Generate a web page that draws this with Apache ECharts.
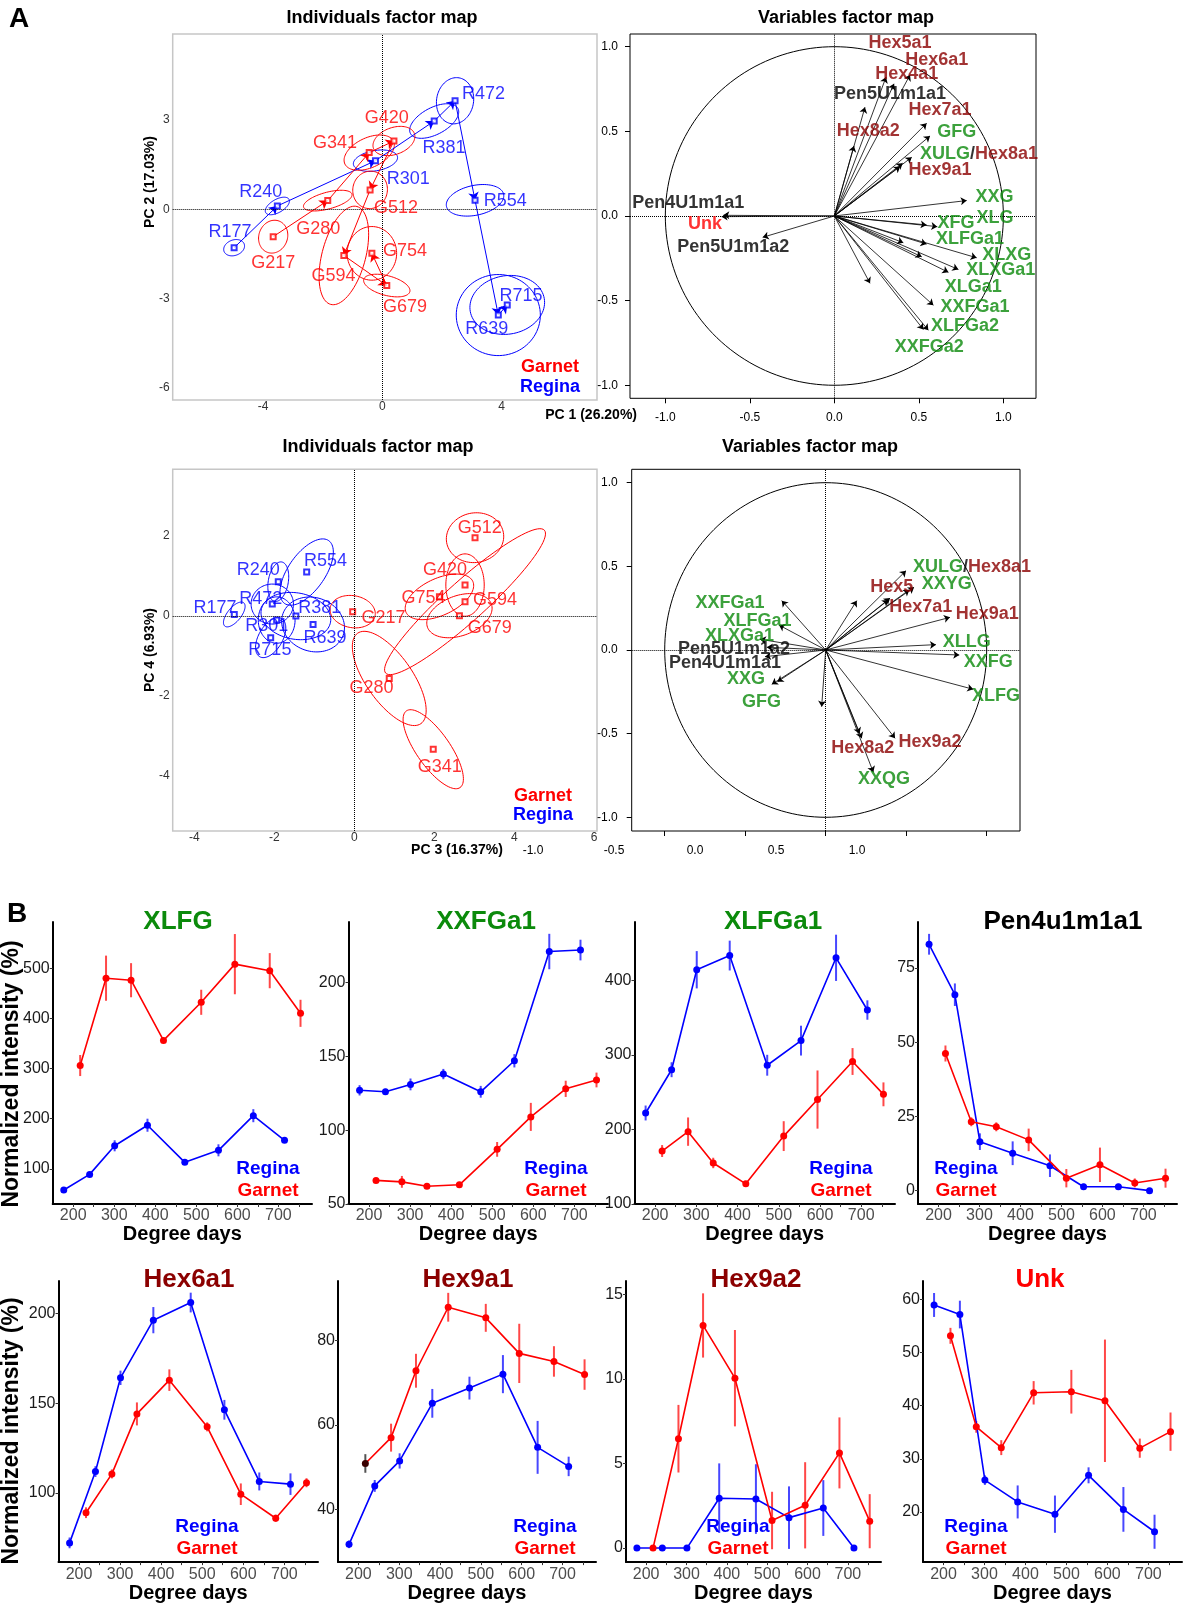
<!DOCTYPE html>
<html><head><meta charset="utf-8">
<script src="https://cdn.jsdelivr.net/npm/echarts@6.0.0/dist/echarts.min.js"></script>
<style>html,body{margin:0;padding:0;background:#fff;}#chart{width:1187px;height:1604px;}</style>
</head><body><div id="chart"></div>
<script>
// ================= DATA =================
const reginaNames = ['R177','R240','R301','R381','R472','R554','R639','R715'];
const garnetNames = ['G217','G280','G341','G420','G512','G594','G679','G754'];
const reginaDays = [177,240,301,381,472,554,639,715];
const garnetDays = [217,280,341,420,512,594,679,754];

// PCA individuals, PC1 / PC2
const reginaPC1 = [-4.97,-3.52,-0.23,1.74,2.44,3.11,3.89,4.19];
const reginaPC2 = [-1.29,0.11,1.63,2.96,3.64,0.30,-3.55,-3.21];
const garnetPC1 = [-3.66,-1.83,-0.44,0.39,-0.41,-1.29,0.15,-0.35];
const garnetPC2 = [-0.92,0.29,1.90,2.29,0.65,-1.55,-2.56,-1.48];
// confidence ellipses PC1/PC2: [semi-axis a, semi-axis b, angle deg]
const reginaEll12 = [[0.36,0.26,20],[0.45,0.22,30],[0.75,0.34,10],[0.9,0.45,28],[0.78,0.62,80],[0.98,0.5,12],[1.41,1.36,0],[1.26,0.98,10]];
const garnetEll12 = [[0.56,0.48,70],[0.84,0.28,15],[0.9,0.5,25],[0.73,0.45,20],[0.63,0.58,80],[1.7,0.73,75],[0.8,0.33,-15],[0.9,0.83,90]];

// PCA individuals, PC3 / PC4
const reginaPC3 = [-3.0,-1.9,-1.94,-1.46,-2.05,-1.19,-1.03,-2.09];
const reginaPC4 = [0.04,0.86,-0.1,0.0,0.30,1.1,-0.21,-0.54];
const garnetPC3 = [-0.04,0.875,1.975,2.77,3.02,2.77,2.63,2.13];
const garnetPC4 = [0.11,-1.56,-3.33,0.775,1.96,0.36,0.01,0.48];
const reginaEll34 = [[0.375,0.17,51],[0.5,0.25,80],[0.58,0.46,90],[0.88,0.58,-10],[0.53,0.5,0],[0.96,0.46,55],[0.8,0.67,-20],[0.55,0.3,60]];
const garnetEll34 = [[0.57,0.4,-10],[1.38,0.58,-55],[1.17,0.42,-55],[0.78,0.48,90],[0.72,0.62,10],[2.67,0.5,42],[0.85,0.5,20],[0.92,0.46,25]];

// PCA variables (correlations), PC1 / PC2
const var12Names = ['Hex5a1','Hex6a1','Hex4a1','Pen5U1m1a1','Hex7a1','Hex8a2','GFG','XULG/Hex8a1','Hex9a1','','XXG','XFG','XLG','XLFGa1','','XLXG','XLXGa1','XLGa1','','XXFGa1','XLFGa2','XXFGa2','','Pen4U1m1a1','Unk','Pen5U1m1a2'];
const var12X = [0.306,0.448,0.353,0.181,0.546,0.116,0.566,0.458,0.404,0.389,0.783,0.609,0.546,0.546,0.408,0.842,0.734,0.675,0.517,0.586,0.556,0.527,0.211,-0.657,-0.667,-0.424];
const var12Y = [0.821,0.834,0.781,0.643,0.548,0.414,0.473,0.347,0.312,0.292,0.091,-0.063,-0.053,-0.166,-0.158,-0.247,-0.316,-0.333,-0.241,-0.527,-0.675,-0.671,-0.398,0.004,-0.004,-0.126];

// PCA variables, PC3 / PC4
const var34Names = ['XULG/Hex8a1','XXYG','Hex5','Hex7a1','','','Hex9a1','XLLG','XXFG','XLFG','Hex9a2','Hex8a2','','XXQG','','XXFGa1','XLFGa1','XLXGa1','Pen5U1m1a2','Pen4U1m1a1','XXG','GFG'];
const var34X = [0.499,0.549,0.40,0.389,0.52,0.193,0.772,0.685,0.830,0.917,0.431,0.224,0.21,0.296,-0.025,-0.273,-0.29,-0.408,-0.366,-0.377,-0.335,-0.30];
const var34Y = [0.474,0.375,0.31,0.299,0.36,0.295,0.195,0.032,-0.030,-0.235,-0.528,-0.528,-0.5,-0.731,-0.339,0.295,0.149,0.064,0.016,-0.04,-0.205,-0.19];

// Panel B: normalized intensity (%), mean and error
const xlfgRegina = [58,89,146,187,113,137,206,157];
const xlfgReginaErr = [3,4,11,13,4,12,13,4];
const xlfgGarnet = [306,480,476,356,432,508,495,410];
const xlfgGarnetErr = [21,45,34,3,25,60,35,27];

const xxfga1Regina = [127,126,131,138,126,147,221,222];
const xxfga1ReginaErr = [3.5,2,4,3.5,4,4.5,12,7];
const xxfga1Garnet = [66,65,62,63,87,109,128,134];
const xxfga1GarnetErr = [1.5,4,1.5,1.5,5,9.5,5.5,5];

const xlfga1Regina = [222,280,414,433,286,319,430,360];
const xlfga1ReginaErr = [10,10,25,20,14,20,31,13];
const xlfga1Garnet = [171,197,155,127,191,240,291,247];
const xlfga1GarnetErr = [8,19,7,3,20,39,18,16];

const pen4Regina = [83,66,16.5,12.6,8.4,1.3,1.3,0];
const pen4ReginaErr = [3.5,3.8,2.8,4,3.8,1,1,0.5];
const pen4Garnet = [46.2,23.2,21.5,17.1,4.2,8.7,2.6,4.2];
const pen4GarnetErr = [2.7,1.5,1.5,3.8,3.1,5.8,1.5,3.2];

const hex6a1Regina = [72.2,111.9,164.1,196.2,206,146.3,106.4,104.9];
const hex6a1ReginaErr = [3,3,4,7.3,5.5,5.5,5,6];
const hex6a1Garnet = [89,110.6,144,162.8,136.8,99.3,85.9,105.7];
const hex6a1GarnetErr = [3,2.5,6.4,6,2.5,6,2,2.5];

const hex9a1Regina = [31.8,45.6,51.5,65.1,68.7,72,54.7,50.2];
const hex9a1ReginaErr = [0.9,1.4,1.8,3.4,2.7,4.5,6.25,2.3];
const hex9a1Garnet = [50.9,57,72.8,87.8,85.3,76.9,75,71.9];
const hex9a1GarnetErr = [2.2,3.3,4,3.4,3.3,7,3.6,3.6];

const hex9a2Regina = [0,0,0,2.95,2.9,1.8,2.37,0];
const hex9a2ReginaErr = [0,0,0,2.06,2.06,1.85,1.65,0];
const hex9a2Garnet = [0,6.47,13.17,10.05,1.63,2.53,5.63,1.59];
const hex9a2GarnetErr = [0,2,1.9,2.85,1.7,2.55,2.1,1.6];

const unkRegina = [58.9,57.1,26.0,21.9,19.6,26.9,20.5,16.3];
const unkReginaErr = [2.25,2.6,0.9,3.1,3.5,1.5,4.2,3.2];
const unkGarnet = [53.1,36.0,32.1,42.4,42.6,40.9,32,35.1];
const unkGarnetErr = [1.5,1.1,1.4,2.2,4.1,11.5,1.8,3.6];

// axis tick values
const pcTicksX12 = [-4,0,4];
const pcTicksY12 = [-6,-3,0,3];
const pcTicksX34 = [-4,-2,0,2,4,6];
const pcTicksY34 = [-4,-2,0,2];
const corTicks = [-1,-0.5,0,0.5,1];
const dayTicks = [200,250,300,350,400,450,500,550,600,650,700,750];
const dayLabels = [200,300,400,500,600,700];

// ================= LAYOUT (positions / styles) =================
const FONT = '"Liberation Sans", Arial, Helvetica, sans-serif';
const GREEN = '#0b8a0b', DRED = '#8b0000', RED = '#ff0000', BLUE = '#0000ff';

const ind12LabelAt = {
  R177:[-5.11,-0.78], R240:[-4.08,0.59], R301:[0.87,1.01], R381:[2.07,2.05], R472:[3.39,3.87], R554:[4.12,0.29], R639:[3.50,-4.03], R715:[4.65,-2.91],
  G217:[-3.66,-1.81], G280:[-2.15,-0.66], G341:[-1.59,2.21], G420:[0.15,3.05], G512:[0.46,0.03], G594:[-1.64,-2.23], G679:[0.76,-3.29], G754:[0.76,-1.39]
};
const ind34LabelAt = {
  R177:[-3.48,0.19], R240:[-2.4,1.15], R301:[-2.19,-0.24], R381:[-0.86,0.19], R472:[-2.34,0.42], R554:[-0.72,1.38], R639:[-0.73,-0.54], R715:[-2.11,-0.85],
  G217:[0.73,-0.06], G280:[0.43,-1.81], G341:[2.14,-3.78], G420:[2.27,1.15], G512:[3.14,2.21], G594:[3.52,0.4], G679:[3.39,-0.29], G754:[1.73,0.44]
};
const var12LabelAt = {
  'Hex5a1':[0.389,1.022],'Hex6a1':[0.606,0.923],'Hex4a1':[0.428,0.840],'Pen5U1m1a1':[0.329,0.722],'Hex7a1':[0.625,0.627],
  'Hex8a2':[0.201,0.499],'GFG':[0.724,0.495],'XULG/Hex8a1':[0.856,0.367],'Hex9a1':[0.625,0.272],'XXG':[0.947,0.114],
  'XFG':[0.72,-0.039],'XLG':[0.951,-0.01],'XLFGa1':[0.803,-0.136],'XLXG':[1.02,-0.231],'XLXGa1':[0.985,-0.32],
  'XLGa1':[0.822,-0.418],'XXFGa1':[0.832,-0.54],'XLFGa2':[0.773,-0.651],'XXFGa2':[0.562,-0.777],
  'Pen4U1m1a1':[-0.864,0.075],'Unk':[-0.765,-0.047],'Pen5U1m1a2':[-0.598,-0.185]
};
const var34LabelAt = {
  'XXFGa1':[-0.594,0.279],'XLFGa1':[-0.424,0.173],'XLXGa1':[-0.536,0.086],'Pen5U1m1a2':[-0.569,0.006],'Pen4U1m1a1':[-0.625,-0.08],
  'XXG':[-0.495,-0.175],'GFG':[-0.398,-0.309],'Hex5':[0.41,0.375],'XULG/Hex8a1':[0.909,0.498],'XXYG':[0.752,0.394],
  'Hex7a1':[0.59,0.259],'Hex9a1':[1.004,0.215],'XLLG':[0.876,0.05],'XXFG':[1.01,-0.07],'XLFG':[1.058,-0.275],
  'Hex9a2':[0.648,-0.548],'Hex8a2':[0.23,-0.588],'XXQG':[0.362,-0.771]
};

const panelsB = [
  {title:'XLFG', color:GREEN, r:xlfgRegina, re:xlfgReginaErr, g:xlfgGarnet, ge:xlfgGarnetErr, yMin:30, yMax:592, yTicks:[100,200,300,400,500]},
  {title:'XXFGa1', color:GREEN, r:xxfga1Regina, re:xxfga1ReginaErr, g:xxfga1Garnet, ge:xxfga1GarnetErr, yMin:50, yMax:241, yTicks:[50,100,150,200]},
  {title:'XLFGa1', color:GREEN, r:xlfga1Regina, re:xlfga1ReginaErr, g:xlfga1Garnet, ge:xlfga1GarnetErr, yMin:100, yMax:478, yTicks:[100,200,300,400]},
  {title:'Pen4u1m1a1', color:'#000', r:pen4Regina, re:pen4ReginaErr, g:pen4Garnet, ge:pen4GarnetErr, yMin:-4.5, yMax:90.5, yTicks:[0,25,50,75]},
  {title:'Hex6a1', color:DRED, r:hex6a1Regina, re:hex6a1ReginaErr, g:hex6a1Garnet, ge:hex6a1GarnetErr, yMin:61.5, yMax:218, yTicks:[100,150,200]},
  {title:'Hex9a1', color:DRED, r:hex9a1Regina, re:hex9a1ReginaErr, g:hex9a1Garnet, ge:hex9a1GarnetErr, yMin:27.6, yMax:94, yTicks:[40,60,80], darkFirstGarnet:true},
  {title:'Hex9a2', color:DRED, r:hex9a2Regina, re:hex9a2ReginaErr, g:hex9a2Garnet, ge:hex9a2GarnetErr, yMin:-0.83, yMax:15.8, yTicks:[0,5,10,15]},
  {title:'Unk', color:RED, r:unkRegina, re:unkReginaErr, g:unkGarnet, ge:unkGarnetErr, yMin:10.6, yMax:63.4, yTicks:[20,30,40,50,60]}
];
const layoutB = [
  {l:52.7, r:312, t:922, b:1204, tx:178, lx:268},
  {l:348.5, r:608, t:922, b:1204, tx:486, lx:556},
  {l:634.5, r:895, t:922, b:1204, tx:773, lx:841},
  {l:918, r:1177, t:922, b:1204, tx:1063, lx:966},
  {l:58.5, r:318, t:1281, b:1563, tx:189, lx:207},
  {l:338, r:596, t:1281, b:1563, tx:468, lx:545},
  {l:626, r:881, t:1281, b:1563, tx:756, lx:738},
  {l:923, r:1182, t:1281, b:1563, tx:1040, lx:976}
];

// ================= BUILD =================
const grid = [], xAxis = [], yAxis = [], series = [], graphic = [];

function addGrid(l, r, t, b, extra) {
  grid.push(Object.assign({left:l, top:t, width:r-l, height:b-t}, extra || {}));
  return grid.length - 1;
}
function txt(text, x, y, font, fill, align, rot) {
  graphic.push({type:'text', x:x, y:y, rotation:rot||0, silent:true,
    style:{text:text, font:font, fill:fill, textAlign:align||'center', textVerticalAlign:'middle'}});
}
function ellipseSeries(gi, cx, cy, ell, color) {
  return {type:'custom', xAxisIndex:gi, yAxisIndex:gi, silent:true, z:2,
    data: cx.map((x,i)=>[x, cy[i], ell[i][0], ell[i][1], ell[i][2]]),
    encode:{x:0, y:1},
    renderItem:(p, api)=>{
      const x0=api.value(0), y0=api.value(1), a=api.value(2), b=api.value(3), ang=api.value(4)*Math.PI/180;
      const pts=[];
      for (let k=0;k<=90;k++){
        const t=k/90*2*Math.PI, ex=a*Math.cos(t), ey=b*Math.sin(t);
        pts.push(api.coord([x0+ex*Math.cos(ang)-ey*Math.sin(ang), y0+ex*Math.sin(ang)+ey*Math.cos(ang)]));
      }
      return {type:'polyline', shape:{points:pts}, style:{stroke:color, fill:null, lineWidth:1}};
    }};
}
function labelSeries(gi, names, at, color, size, weight) {
  return {type:'scatter', xAxisIndex:gi, yAxisIndex:gi, symbolSize:0, silent:true, z:6,
    data: names.map(n=>({name:n, value:at[n]})),
    label:{show:true, position:'inside', formatter:'{b}', color:color, fontSize:size, fontWeight:weight||'normal', fontFamily:FONT}};
}
function trajSeries(gi, xs, ys, color) {
  const data=[];
  for (let i=0;i<xs.length-1;i++) data.push({coords:[[xs[i],ys[i]],[xs[i+1],ys[i+1]]]});
  return {type:'lines', coordinateSystem:'cartesian2d', xAxisIndex:gi, yAxisIndex:gi, silent:true, z:3,
    data:data, symbol:['none','arrow'], symbolSize:8, lineStyle:{color:color, width:1, opacity:1}};
}

function indivMap(box, xr, yr, xt, yt, labMargin, rX, rY, gX, gY, rEll, gEll, labelAt, withTraj) {
  const gi = addGrid(box[0], box[1], box[2], box[3], {show:true, borderColor:'#c6c6c6', borderWidth:1.5, backgroundColor:'transparent'});
  xAxis.push({gridIndex:gi, type:'value', min:xr[0], max:xr[1], axisLine:{show:false,onZero:false}, axisTick:{show:false}, splitLine:{show:false},
    axisLabel:{customValues:xt, fontSize:12, color:'#333', margin:labMargin, fontFamily:FONT}});
  yAxis.push({gridIndex:gi, type:'value', min:yr[0], max:yr[1], axisLine:{show:false,onZero:false}, axisTick:{show:false}, splitLine:{show:false},
    axisLabel:{customValues:yt, fontSize:12, color:'#333', margin:3, fontFamily:FONT}});
  series.push(ellipseSeries(gi, rX, rY, rEll, BLUE));
  series.push(ellipseSeries(gi, gX, gY, gEll, RED));
  if (withTraj) { series.push(trajSeries(gi, rX, rY, BLUE)); series.push(trajSeries(gi, gX, gY, RED)); }
  series.push({type:'scatter', xAxisIndex:gi, yAxisIndex:gi, symbol:'emptyRect', symbolSize:5, silent:true, z:4,
    data: rX.map((x,i)=>[x, rY[i]]), itemStyle:{color:BLUE, borderWidth:1},
    markLine:{silent:true, symbol:'none', label:{show:false}, lineStyle:{type:'dotted', color:'#000', width:1}, data:[{xAxis:0},{yAxis:0}]}});
  series.push({type:'scatter', xAxisIndex:gi, yAxisIndex:gi, symbol:'emptyRect', symbolSize:5, silent:true, z:4,
    data: gX.map((x,i)=>[x, gY[i]]), itemStyle:{color:RED, borderWidth:1}});
  series.push(labelSeries(gi, reginaNames, labelAt, BLUE, 18));
  series.push(labelSeries(gi, garnetNames, labelAt, RED, 18));
  return gi;
}

function varKey(n){ if(n.indexOf('Hex')===0) return 'r'; if(n.indexOf('Pen')===0) return 'k'; if(n==='Unk') return 'u'; return 'g'; }
function varRich(n){
  if (n.indexOf('/')>=0){ const p=n.split('/'); return '{'+varKey(p[0])+'|'+p[0]+'}{k|/}{'+varKey(p[1])+'|'+p[1]+'}'; }
  return '{'+varKey(n)+'|'+n+'}';
}
const RS = {fontSize:18, fontWeight:'bold', fontFamily:FONT};
const richVar = {g:Object.assign({color:GREEN},RS), r:Object.assign({color:DRED},RS), k:Object.assign({color:'#000'},RS), u:Object.assign({color:RED},RS)};

function varMap(box, xr, yr, names, xs, ys, labelAt, showXLabels, xLabMargin, yLabMargin) {
  const gi = addGrid(box[0], box[1], box[2], box[3], {show:true, borderColor:'#000', borderWidth:1, backgroundColor:'transparent'});
  xAxis.push({gridIndex:gi, type:'value', min:xr[0], max:xr[1], axisLine:{show:false,onZero:false}, splitLine:{show:false},
    axisTick:{show:true, customValues:corTicks, length:5, lineStyle:{color:'#000'}},
    axisLabel:{show:showXLabels, customValues:corTicks, fontSize:12, color:'#000', margin:xLabMargin, fontFamily:FONT, formatter:v=>v.toFixed(1)}});
  yAxis.push({gridIndex:gi, type:'value', min:yr[0], max:yr[1], axisLine:{show:false,onZero:false}, splitLine:{show:false},
    axisTick:{show:true, customValues:corTicks, length:5, lineStyle:{color:'#000'}},
    axisLabel:{customValues:corTicks, fontSize:12, color:'#000', margin:yLabMargin, fontFamily:FONT, formatter:v=>v.toFixed(1)}});
  series.push({type:'custom', xAxisIndex:gi, yAxisIndex:gi, silent:true, z:2, data:[[0,0,1]], encode:{x:0,y:1},
    renderItem:(p, api)=>{
      const r=api.value(2), pts=[];
      for (let k=0;k<=180;k++){ const t=k/180*2*Math.PI; pts.push(api.coord([r*Math.cos(t), r*Math.sin(t)])); }
      return {type:'polyline', shape:{points:pts}, style:{stroke:'#000', fill:null, lineWidth:1}};
    },
    markLine:{silent:true, symbol:'none', label:{show:false}, lineStyle:{type:'dotted', color:'#000', width:1}, data:[{xAxis:0},{yAxis:0}]}});
  series.push({type:'lines', coordinateSystem:'cartesian2d', xAxisIndex:gi, yAxisIndex:gi, silent:true, z:3,
    data: xs.map((x,i)=>({coords:[[0,0],[x, ys[i]]]})), symbol:['none','arrow'], symbolSize:6,
    lineStyle:{color:'#000', width:0.8, opacity:1}});
  const labNames = names.filter(n=>n);
  series.push({type:'scatter', xAxisIndex:gi, yAxisIndex:gi, symbolSize:0, silent:true, z:6,
    data: labNames.map(n=>({name:n, value:labelAt[n]})),
    label:{show:true, position:'inside', formatter:p=>varRich(p.name), rich:richVar}});
  return gi;
}

// ---- Panel A ----
indivMap([172.7,597,34,400], [-7.03,7.2], [-6.40,5.88], pcTicksX12, pcTicksY12, 1,
  reginaPC1, reginaPC2, garnetPC1, garnetPC2, reginaEll12, garnetEll12, ind12LabelAt, true);
varMap([630,1036,34,398.3], [-1.209,1.193], [-1.077,1.075], var12Names, var12X, var12Y, var12LabelAt, true, 13, 12);
indivMap([172.7,597,469.3,831], [-4.54,6.07], [-5.375,3.67], pcTicksX34, pcTicksY34, 1,
  reginaPC3, reginaPC4, garnetPC3, garnetPC4, reginaEll34, garnetEll34, ind34LabelAt, false);
varMap([631.7,1020,469.3,831], [-1.205,1.207], [-1.082,1.080], var34Names, var34X, var34Y, var34LabelAt, false, 13, 14);
// detached tick-label row under the lower variables map (as in the original figure)
(function(){
  const gi = addGrid(500.6, 889.4, 820, 831);
  xAxis.push({gridIndex:gi, type:'value', min:-1.2, max:1.2, axisLine:{show:false,onZero:false}, axisTick:{show:false}, splitLine:{show:false},
    axisLabel:{customValues:corTicks, fontSize:12, color:'#000', margin:14, fontFamily:FONT, formatter:v=>v.toFixed(1)}});
  yAxis.push({gridIndex:gi, type:'value', min:0, max:1, show:false});
  series.push({type:'scatter', xAxisIndex:gi, yAxisIndex:gi, data:[], silent:true});
})();

txt('A', 19, 19, 'bold 28px '+FONT, '#000');
txt('Individuals factor map', 382, 18, 'bold 18px '+FONT, '#000');
txt('Variables factor map', 846, 18, 'bold 18px '+FONT, '#000');
txt('Individuals factor map', 378, 447, 'bold 18px '+FONT, '#000');
txt('Variables factor map', 810, 447, 'bold 18px '+FONT, '#000');
txt('PC 2 (17.03%)', 150, 182, 'bold 14px '+FONT, '#000', 'center', Math.PI/2);
txt('PC 4 (6.93%)', 150, 650, 'bold 14px '+FONT, '#000', 'center', Math.PI/2);
txt('PC 1 (26.20%)', 637, 415, 'bold 14px '+FONT, '#000', 'right');
txt('PC 3 (16.37%)', 457, 850, 'bold 14px '+FONT, '#000');
txt('Garnet', 550, 367, 'bold 18px '+FONT, RED);
txt('Regina', 550, 387, 'bold 18px '+FONT, BLUE);
txt('Garnet', 543, 796, 'bold 18px '+FONT, RED);
txt('Regina', 543, 815, 'bold 18px '+FONT, BLUE);

// ---- Panel B ----
function errSeries(gi, xs, vs, es, color, firstColor) {
  return {type:'custom', xAxisIndex:gi, yAxisIndex:gi, silent:true, z:2,
    data: xs.map((x,i)=>[x, vs[i], es[i], i]), encode:{x:0, y:1},
    renderItem:(p, api)=>{
      const x=api.value(0), v=api.value(1), e=api.value(2), idx=api.value(3);
      const a=api.coord([x, v-e]), b=api.coord([x, v+e]);
      const c = (firstColor && idx===0) ? firstColor : color;
      return {type:'line', shape:{x1:a[0], y1:a[1], x2:b[0], y2:b[1]}, style:{stroke:c, lineWidth:2, opacity:0.72}};
    }};
}
txt('B', 17, 914, 'bold 28px '+FONT, '#000');
panelsB.forEach((cfg, k)=>{
  const L = layoutB[k];
  const gi = addGrid(L.l, L.r, L.t, L.b);
  xAxis.push({gridIndex:gi, type:'value', min:150, max:782,
    axisLine:{show:true, onZero:false, lineStyle:{color:'#000', width:2}},
    axisTick:{show:true, customValues:dayTicks, length:3, lineStyle:{color:'#333', width:1}},
    axisLabel:{customValues:dayLabels, fontSize:16, color:'#4d4d4d', margin:4, fontFamily:FONT},
    splitLine:{show:false},
    name:'Degree days', nameLocation:'middle', nameGap:20,
    nameTextStyle:{fontSize:20, fontWeight:'bold', color:'#000', fontFamily:FONT}});
  yAxis.push({gridIndex:gi, type:'value', min:cfg.yMin, max:cfg.yMax,
    axisLine:{show:true, onZero:false, lineStyle:{color:'#000', width:2}},
    axisTick:{show:true, customValues:cfg.yTicks, length:3, lineStyle:{color:'#333', width:1}},
    axisLabel:{customValues:cfg.yTicks, fontSize:16, color:'#1a1a1a', margin:3, fontFamily:FONT},
    splitLine:{show:false}});
  series.push(errSeries(gi, reginaDays, cfg.r, cfg.re, BLUE));
  series.push(errSeries(gi, garnetDays, cfg.g, cfg.ge, RED, cfg.darkFirstGarnet ? '#111' : null));
  series.push({type:'line', name:'Regina', xAxisIndex:gi, yAxisIndex:gi, silent:true, z:3,
    data: reginaDays.map((d,i)=>[d, cfg.r[i]]), symbol:'circle', symbolSize:7,
    lineStyle:{color:BLUE, width:1.6}, itemStyle:{color:BLUE}});
  series.push({type:'line', name:'Garnet', xAxisIndex:gi, yAxisIndex:gi, silent:true, z:4,
    data: garnetDays.map((d,i)=>(cfg.darkFirstGarnet && i===0) ? {value:[d, cfg.g[i]], itemStyle:{color:'#3a0000'}} : [d, cfg.g[i]]),
    symbol:'circle', symbolSize:7,
    lineStyle:{color:RED, width:1.6}, itemStyle:{color:RED}});
  const ty = L.t < 1000 ? 922 : 1280;
  txt(cfg.title, L.tx, ty, 'bold 26px '+FONT, cfg.color);
  const ly = L.t < 1000 ? 1169 : 1527;
  txt('Regina', L.lx, ly, 'bold 19px '+FONT, BLUE);
  txt('Garnet', L.lx, ly+22, 'bold 19px '+FONT, RED);
});
txt('Normalized intensity (%)', 12, 1074, 'bold 23px '+FONT, '#000', 'center', Math.PI/2);
txt('Normalized intensity (%)', 12, 1431, 'bold 23px '+FONT, '#000', 'center', Math.PI/2);

const chart = echarts.init(document.getElementById('chart'), null, {renderer:'canvas', width:1187, height:1604});
chart.setOption({backgroundColor:'#fff', animation:false, grid:grid, xAxis:xAxis, yAxis:yAxis, series:series, graphic:graphic});
</script>
</body></html>
